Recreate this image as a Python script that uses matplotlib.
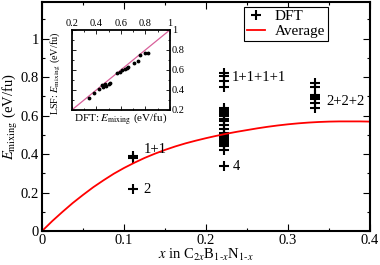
import numpy as np
import matplotlib
matplotlib.use("Agg")
import matplotlib.pyplot as plt
from matplotlib.ticker import MultipleLocator

plt.rcParams['font.family'] = ['Liberation Serif', 'DejaVu Serif']
plt.rcParams['mathtext.fontset'] = 'stix'

# DFT mixing energies, per composition
x_dft = [1/9]*3 + [2/9]*23 + [1/3]*7
e_dft = [0.38, 0.39, 0.22,
         0.82, 0.805, 0.78, 0.75, 0.64, 0.63, 0.62, 0.61, 0.60, 0.585, 0.57,
         0.55, 0.53, 0.51, 0.50, 0.49, 0.48, 0.47, 0.46, 0.45, 0.44, 0.42, 0.34,
         0.77, 0.75, 0.705, 0.695, 0.685, 0.665, 0.64]

# average curve
x_avg = [0, 0.0125, 0.025, 0.0375, 0.05, 0.0625, 0.075, 0.0875, 0.1, 0.1125,
         0.125, 0.1375, 0.15, 0.1625, 0.175, 0.1875, 0.2, 0.2125, 0.225, 0.2375,
         0.25, 0.2625, 0.275, 0.2875, 0.3, 0.3125, 0.325, 0.3375, 0.35, 0.3625,
         0.375, 0.3875, 0.4]
e_avg = [0, 0.052, 0.100, 0.146, 0.188, 0.228, 0.264, 0.298, 0.328, 0.355,
         0.380, 0.402, 0.422, 0.440, 0.456, 0.470, 0.483, 0.495, 0.506, 0.516,
         0.525, 0.534, 0.542, 0.549, 0.555, 0.560, 0.564, 0.567, 0.569, 0.570,
         0.570, 0.570, 0.569]

# inset: DFT vs LSF
ins_dft = [0.34, 0.38, 0.42, 0.45, 0.455, 0.47, 0.48, 0.50, 0.51, 0.57, 0.59,
           0.61, 0.63, 0.65, 0.66, 0.71, 0.74, 0.755, 0.80, 0.82]
ins_lsf = [0.32, 0.37, 0.41, 0.45, 0.43, 0.46, 0.44, 0.46, 0.47, 0.57, 0.58,
           0.60, 0.61, 0.62, 0.63, 0.67, 0.69, 0.75, 0.77, 0.77]

labels = ['1+1', '2', '1+1+1+1', '4', '2+2+2']
label_x = [0.124, 0.124, 0.231, 0.232, 0.347]
label_y = [0.425, 0.215, 0.80, 0.335, 0.675]

fig = plt.figure(figsize=(3.8, 2.65), dpi=100)
ax = fig.add_axes([0.1105, 0.128, 0.8635, 0.864])

ax.plot(x_dft, e_dft, '+', color='black', ms=7, mew=1.5, label='DFT')
ax.plot(x_avg, e_avg, '-', color='#ff0000', lw=1.3, label='Average')
for t, tx, ty in zip(labels, label_x, label_y):
    ax.text(tx, ty, t, fontsize=10.5, va='center', ha='left')

ax.set_xlim(0, 0.4)
ax.set_ylim(0, 1.19)
ax.xaxis.set_minor_locator(MultipleLocator(0.05))
ax.yaxis.set_minor_locator(MultipleLocator(0.1))
ax.set_xticks([0, 0.1, 0.2, 0.3, 0.4], ['0', '0.1', '0.2', '0.3', '0.4'])
ax.set_yticks([0, 0.2, 0.4, 0.6, 0.8, 1.0], ['0', '0.2', '0.4', '0.6', '0.8', '1'])
ax.tick_params(which='both', direction='in', top=True, right=True, labelsize=10.5, pad=2)
ax.tick_params(which='major', length=5, width=0.8)
ax.tick_params(which='minor', length=2.5, width=0.8)
for s in ax.spines.values():
    s.set_linewidth(1.5)
ax.set_xlabel(r'$x$ in C$_{2x}$B$_{1\text{-}x}$N$_{1\text{-}x}$', fontsize=10.5, labelpad=0)
ax.set_ylabel(r'$E_{\mathrm{mixing}}$ (eV/fu)', fontsize=10.5, labelpad=1)

leg = ax.legend(loc='upper right', bbox_to_anchor=(0.885, 1.0), fontsize=11,
                frameon=True, fancybox=False, edgecolor='black', framealpha=1,
                handlelength=1.2, handletextpad=0.6, borderpad=0.2, labelspacing=0.05,
                borderaxespad=0.3)
leg.get_frame().set_linewidth(0.8)

# inset
ins = fig.add_axes([0.189, 0.585, 0.258, 0.302])
ins.plot([0.2, 1], [0.2, 1], '-', color='#d8609a', lw=0.9)
ins.plot(ins_dft, ins_lsf, '.', color='black', ms=3.5)
ins.set_xlim(0.2, 1)
ins.set_ylim(0.2, 1)
ins.set_xticks([0.2, 0.4, 0.6, 0.8, 1.0], ['0.2', '0.4', '0.6', '0.8', '1'])
ins.set_yticks([0.2, 0.4, 0.6, 0.8, 1.0], ['0.2', '0.4', '0.6', '0.8', '1'])
ins.xaxis.set_minor_locator(MultipleLocator(0.1))
ins.yaxis.set_minor_locator(MultipleLocator(0.1))
ins.tick_params(which='both', direction='in', top=True, right=True, bottom=True, left=True,
                labeltop=True, labelbottom=False, labelright=True, labelleft=False,
                labelsize=7.5, pad=1.5)
ins.tick_params(which='major', length=3, width=0.6)
ins.tick_params(which='minor', length=1.5, width=0.6)
for s in ins.spines.values():
    s.set_linewidth(1.3)
ins.set_xlabel(r'DFT: $E_{\mathrm{mixing}}$ (eV/fu)', fontsize=8, labelpad=1)
ins.set_ylabel(r'LSF: $E_{\mathrm{mixing}}$ (eV/fu)', fontsize=7.3, labelpad=1)
ins.yaxis.set_label_coords(-0.1, 0.46)

fig.savefig('out.png', dpi=100)
